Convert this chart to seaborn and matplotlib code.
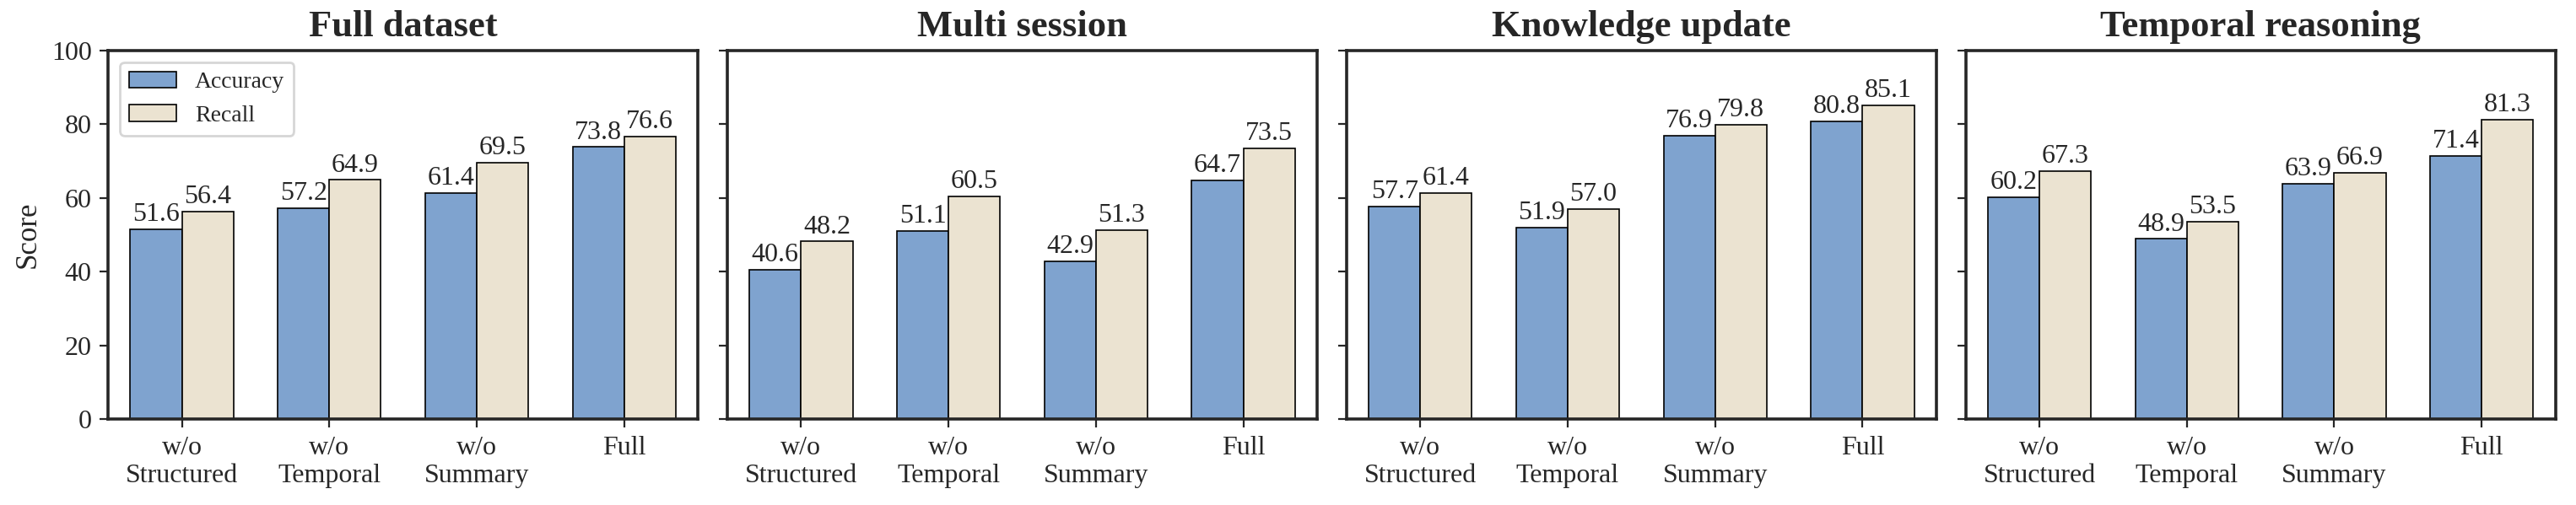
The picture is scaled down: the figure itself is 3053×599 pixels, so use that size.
import pandas as pd
import numpy as np
import matplotlib
matplotlib.use("Agg")
import matplotlib.pyplot as plt
import seaborn as sns

panels = ["Full dataset", "Multi session", "Knowledge update", "Temporal reasoning"]
variants = ["w/o\nStructured", "w/o\nTemporal", "w/o\nSummary", "Full"]
accuracy = [
    [51.6, 57.2, 61.4, 73.8],
    [40.6, 51.1, 42.9, 64.7],
    [57.7, 51.9, 76.9, 80.8],
    [60.2, 48.9, 63.9, 71.4],
]
recall = [
    [56.4, 64.9, 69.5, 76.6],
    [48.2, 60.5, 51.3, 73.5],
    [61.4, 57.0, 79.8, 85.1],
    [67.3, 53.5, 66.9, 81.3],
]

sns.set_style("ticks")
plt.rcParams['font.family'] = ['Liberation Serif', 'DejaVu Serif']

fig, axes = plt.subplots(1, 4, figsize=(15.265, 2.995), dpi=200, sharey=True)
palette = {"Accuracy": "#7fa3cf", "Recall": "#ebe3d1"}

for i, ax in enumerate(axes):
    df = pd.DataFrame({
        "variant": variants * 2,
        "metric": ["Accuracy"] * 4 + ["Recall"] * 4,
        "score": accuracy[i] + recall[i],
    })
    sns.barplot(data=df, x="variant", y="score", hue="metric", palette=palette,
                ax=ax, width=0.7, edgecolor="black", linewidth=0.6, saturation=1)
    for c in ax.containers:
        ax.bar_label(c, fmt="%.1f", fontsize=11.5, padding=1)
    ax.set_title(panels[i], fontsize=16, fontweight="bold")
    ax.set_xlabel("")
    ax.set_ylabel("Score" if i == 0 else "", fontsize=12.5)
    ax.set_ylim(0, 100)
    ax.set_yticks(range(0, 101, 20))
    ax.tick_params(labelsize=11.5)
    for s in ax.spines.values():
        s.set_linewidth(1.3)
    if i == 0:
        ax.legend(loc="upper left", fontsize=10, frameon=True)
    else:
        ax.get_legend().remove()

plt.subplots_adjust(left=0.042, right=0.992, top=0.9, bottom=0.17, wspace=0.05)
fig.savefig("out.png")
